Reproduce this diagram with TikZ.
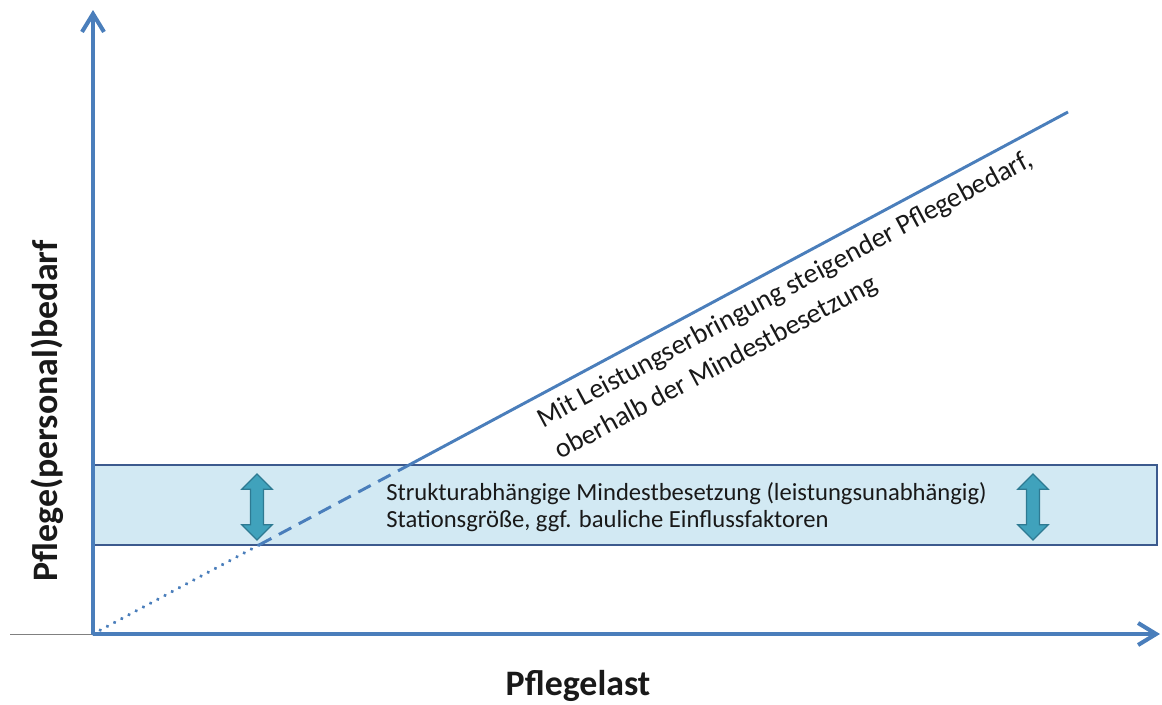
\documentclass[tikz,border=0pt]{standalone}
\usepackage{fontspec}
\setmainfont{Carlito}
\usetikzlibrary{arrows.meta, positioning, shapes.arrows, calc}
\definecolor{axisblue}{HTML}{4A7EBB}
\definecolor{bandfill}{HTML}{D2E9F3}
\definecolor{banddraw}{HTML}{3C5A8E}
\definecolor{arrowteal}{HTML}{40A2BC}
\definecolor{arrowedge}{HTML}{2E7A92}
\tikzset{
  axis/.style={draw=axisblue, line width=2.9pt, -{Straight Barb[length=4.5mm, width=5.5mm]}},
  trend/.style={draw=axisblue, line width=2.1pt},
  band/.style={draw=banddraw, fill=bandfill, line width=2pt},
  updown/.style={double arrow, draw=arrowedge, fill=arrowteal, line width=0.8pt, rotate=90, minimum height=1.65cm, inner sep=4.2pt, double arrow head extend=0.22cm},
  axislabel/.style={font=\fontsize{25.5}{30}\selectfont\bfseries, text=black!90},
  bandtext/.style={font=\fontsize{17.5}{19.2}\selectfont, align=left, anchor=west, inner sep=0pt, text=black!90},
  slopetext/.style={font=\fontsize{19.8}{25.6}\selectfont, align=left, rotate=28.2, anchor=north west, inner sep=0pt, text=black!90},
}

\begin{document}
\begin{tikzpicture}[x=0.025cm, y=-0.025cm]
  \useasboundingbox (0,0) rectangle (1162,704);
  % band of the structural minimum staffing
  \draw[band] (93,465) rectangle (1157,545);
  \node[bandtext] (bandlbl) at (386,507) {Strukturabhängige Mindestbesetzung (leistungsunabhängig)\\Stationsgröße, ggf. bauliche Einflussfaktoren};
  \node[updown] (leftarr) at (257,507) {};
  \node[updown] (rightarr) at (1033,507) {};
  % axes
  \coordinate (O) at (93,634);
  \coordinate (ytop) at (93,10);
  \coordinate (xend) at (1160,634);
  \coordinate (G) at (10,634);
  \draw[gray, line width=0.6pt] (G) -- (O);
  \draw[axis] (O) -- (ytop);
  \draw[axis] (O) -- (xend);
  % demand line
  \coordinate (P1) at (259,545);
  \coordinate (P2) at (409,465);
  \coordinate (E) at (1068,112);
  \draw[trend, line width=2.6pt, line cap=round, dash pattern=on 0.01pt off 5.8pt] (O) -- (P1);
  \draw[trend, dash pattern=on 10pt off 6pt] (P1) -- (P2);
  \draw[trend] (P2) -- (E);
  \node[slopetext] (slopelbl) at (534,411) {Mit Leistungserbringung steigender Pflegebedarf,\\oberhalb der Mindestbesetzung};
  \node[axislabel, rotate=90] (ylbl) at (47,411) {Pflege(personal)bedarf};
  \node[axislabel] (xlbl) at (578,686) {Pflegelast};
\end{tikzpicture}
\end{document}
